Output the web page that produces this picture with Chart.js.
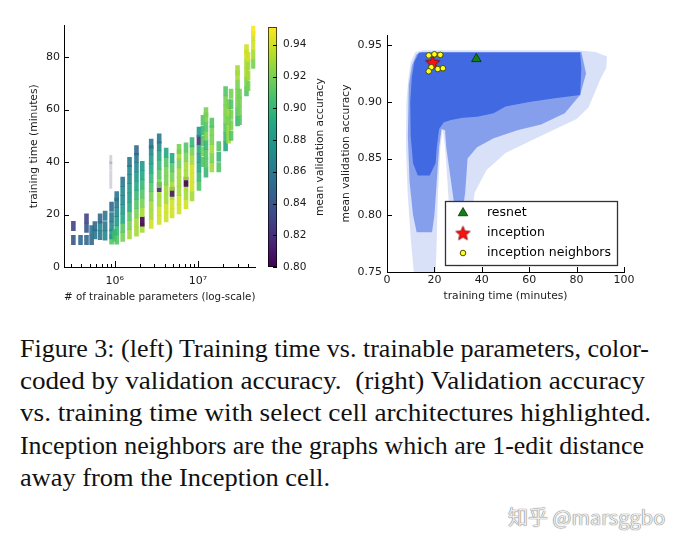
<!DOCTYPE html>
<html>
<head>
<meta charset="utf-8">
<script src="https://cdn.jsdelivr.net/npm/chart.js@4.4.1/dist/chart.umd.min.js"></script>
<style>
  html, body { margin: 0; padding: 0; background: #fff; }
  body { width: 686px; height: 546px; overflow: hidden; position: relative; }
  canvas { position: absolute; }
  #caption {
    position: absolute; left: 20px; top: 333px; width: 660px;
    font-family: "Liberation Serif", "Times New Roman", serif;
    font-size: 25.5px; line-height: 32.2px; color: #111;
  }
  #caption div { white-space: nowrap; }
  #caption span { display: inline-block; transform-origin: 0 0; }
  #mark {
    position: absolute; left: 508px; top: 502px;
    font-family: "Noto Sans CJK SC", "Noto Sans", sans-serif; font-size: 20px;
    color: #ececec; text-shadow: 0 0 1px #666, 0 0 1px #888;
  }
</style>
</head>
<body>
<canvas id="left" width="265" height="295" style="left:0;top:15px"></canvas>
<canvas id="cbar" width="80" height="295" style="left:262px;top:15px"></canvas>
<canvas id="right" width="305" height="295" style="left:335px;top:15px"></canvas>

<div id="caption">
  <div><span data-w="629">Figure 3: (left) Training time vs. trainable parameters, color-</span></div>
  <div><span data-w="625">coded by validation accuracy.&nbsp; (right) Validation accuracy</span></div>
  <div><span data-w="631">vs. training time with select cell architectures highlighted.</span></div>
  <div><span data-w="624">Inception neighbors are the graphs which are 1-edit distance</span></div>
  <div><span data-w="310">away from the Inception cell.</span></div>
</div>
<div id="mark">知乎 @marsggbo</div>

<script>
// ---------- left panel: one column of streaks per parameter count ----------
const columnParams = [
  3.2e5, 3.9e5, 4.6e5, 5.3e5, 5.8e5, 6.7e5, 7.7e5, 9.2e5, 1.0e6, 1.06e6,
  1.25e6, 1.51e6, 1.83e6, 2.15e6, 2.75e6, 3.43e6, 4.16e6, 4.9e6, 5.94e6, 7.2e6,
  8.5e6, 1.03e7, 1.15e7, 1.25e7, 1.47e7, 1.78e7, 2.15e7, 2.34e7, 2.5e7, 2.99e7,
  3.16e7, 3.83e7, 4.0e7, 4.64e7
];
const columnMinutes = [
  [10.3, 15.6], [10.3], [10.3, 15, 18.5], [10.3, 14], [12.5, 15.5],
  [12.2, 15.5, 18.5], [12, 15.5, 19.5], [10.5, 12.5, 15.5, 19, 23], [11.5, 12.5],
  [10.5, 14, 17.5, 21, 24.5, 27],
  [11.5, 15, 18.5, 22, 25.5, 29, 32.5],
  [12.5, 16, 19.5, 23, 26.5, 30, 33.5, 37, 40],
  [13.5, 17, 20.5, 24, 27.5, 31, 34.5, 38, 41.5, 44.5],
  [15, 17.3, 21, 24.5, 28, 31.5, 35, 38.5],
  [16.5, 20, 23.5, 27, 30.5, 34, 37.5, 41, 44.5, 47],
  [18, 21.5, 25, 28.5, 30.5, 32, 35.5, 39, 42.5, 46, 49],
  [19, 22.5, 26, 29.5, 33, 36.5, 40, 43.5],
  [20.5, 24, 27.5, 28.7, 31, 34.5, 38, 41.5],
  [22, 25.5, 29, 32.5, 36, 39.5, 43, 45],
  [24, 27.5, 31, 32.5, 35, 38.5, 42, 45.5],
  [27, 30.5, 34, 37.5, 41, 44.5, 47.5],
  [31, 34.5, 38, 41.5, 45, 48.5, 51.5],
  [40, 44, 48, 52, 56],
  [36, 39.5, 43, 46.5, 50, 53.5, 57, 59],
  [38, 41.5, 45, 48.5, 52, 55],
  [38, 42, 46],
  [46, 49.5, 53, 56.5, 60, 63.5, 67],
  [49, 52.5, 56, 59.5, 62],
  [50, 54, 58, 62, 66],
  [55.5, 59, 62.5, 66, 69.5, 73, 75],
  [56, 59.5, 63, 66],
  [67, 70.5, 74, 77.5, 81, 83],
  [69, 73, 77, 80],
  [77.5, 81, 84.5, 88, 90]
];
const columnAccuracy = [
  [0.84, 0.83], [0.85], [0.85, 0.84, 0.83], [0.85, 0.86], [0.86, 0.85],
  [0.86, 0.87, 0.85], [0.87, 0.86, 0.86], [0.91, 0.88, 0.87, 0.86, 0.85], [0.91, 0.90],
  [0.91, 0.90, 0.88, 0.87, 0.86, 0.86],
  [0.92, 0.91, 0.89, 0.88, 0.87, 0.87, 0.86],
  [0.93, 0.92, 0.91, 0.89, 0.88, 0.88, 0.87, 0.87, 0.86],
  [0.93, 0.93, 0.92, 0.91, 0.90, 0.89, 0.88, 0.87, 0.86, 0.85],
  [0.93, 0.80, 0.93, 0.92, 0.91, 0.90, 0.89, 0.88],
  [0.94, 0.93, 0.93, 0.92, 0.91, 0.90, 0.89, 0.88, 0.87, 0.86],
  [0.94, 0.94, 0.93, 0.93, 0.82, 0.92, 0.91, 0.90, 0.89, 0.87, 0.86],
  [0.94, 0.94, 0.93, 0.93, 0.92, 0.92, 0.91, 0.89],
  [0.94, 0.94, 0.93, 0.81, 0.93, 0.92, 0.91, 0.89],
  [0.94, 0.94, 0.93, 0.93, 0.93, 0.92, 0.93, 0.92],
  [0.94, 0.93, 0.93, 0.80, 0.93, 0.93, 0.92, 0.91],
  [0.93, 0.94, 0.94, 0.94, 0.93, 0.92, 0.90],
  [0.91, 0.90, 0.89, 0.88, 0.89, 0.82, 0.88],
  [0.91, 0.92, 0.91, 0.90, 0.91],
  [0.90, 0.91, 0.91, 0.90, 0.92, 0.91, 0.92, 0.92],
  [0.93, 0.92, 0.93, 0.92, 0.92, 0.91],
  [0.91, 0.90, 0.91],
  [0.89, 0.90, 0.91, 0.92, 0.92, 0.92, 0.91],
  [0.93, 0.93, 0.92, 0.93, 0.92],
  [0.91, 0.92, 0.92, 0.91, 0.92],
  [0.90, 0.91, 0.92, 0.92, 0.92, 0.93, 0.93],
  [0.91, 0.92, 0.92, 0.92],
  [0.91, 0.92, 0.93, 0.93, 0.94, 0.94],
  [0.92, 0.93, 0.93, 0.94],
  [0.92, 0.93, 0.94, 0.94, 0.95]
];
// the pale grey streak near 1e6
const faintParams = [9.0e5, 9.0e5, 9.0e5, 9.0e5];
const faintMinutes = [31.5, 35, 38.5, 41];

const timeTicks = [0, 20, 40, 60, 80];
const cbarTicks = [0.80, 0.82, 0.84, 0.86, 0.88, 0.90, 0.92, 0.94];

// ---------- right panel: outline of the point cloud at three densities ----------
const cloudOuterTime = [9, 10, 12, 15, 80, 88, 92.8, 92.5, 90, 85, 80, 70, 60, 50, 42, 37, 35, 34, 32,
  29.5, 27, 25.5, 24.5, 23.5, 22.5, 21.5, 21, 20.5, 11.5, 10, 8.7, 8.0, 8.2];
const cloudOuterAcc = [0.92, 0.935, 0.944, 0.9455, 0.9455, 0.944, 0.94, 0.93, 0.92, 0.895, 0.885, 0.875, 0.865, 0.855, 0.84, 0.82, 0.79, 0.765, 0.755,
  0.755, 0.78, 0.83, 0.86, 0.876, 0.86, 0.82, 0.78, 0.745, 0.745, 0.78, 0.82, 0.86, 0.90];
const cloudMidTime = [9.2, 10.5, 12.5, 15, 82, 84, 81.5, 75, 65, 55, 45, 38, 34, 33, 31, 29, 27, 25, 24.5, 23, 22, 21, 20, 19,
  12.5, 11, 9.5, 8.8];
const cloudMidAcc = [0.915, 0.932, 0.942, 0.944, 0.944, 0.925, 0.906, 0.89, 0.88, 0.875, 0.868, 0.86, 0.85, 0.82, 0.79, 0.80, 0.83, 0.86,
  0.875, 0.876, 0.86, 0.83, 0.80, 0.785, 0.785, 0.80, 0.83, 0.87];
const cloudCoreTime = [9.8, 10.5, 11.5, 13.5, 81.5, 82, 81.5, 70, 60, 50, 45, 38, 32, 27, 24, 22, 21, 20.5, 18, 13, 11, 10];
const cloudCoreAcc = [0.90, 0.922, 0.935, 0.9435, 0.9435, 0.93, 0.906, 0.903, 0.90, 0.896, 0.89, 0.887, 0.886, 0.884, 0.882, 0.876,
  0.86, 0.846, 0.835, 0.835, 0.846, 0.87];

const markerNames = ['resnet', 'inception', 'inception neighbors'];
const resnetTime = [37.7];
const resnetAcc = [0.938];
const inceptionTime = [19.3];
const inceptionAcc = [0.935];
const neighborTime = [17.6, 20.0, 22.5, 18.7, 21.4, 23.6, 17.6];
const neighborAcc = [0.941, 0.942, 0.9415, 0.9306, 0.929, 0.9297, 0.927];

const rightAccTicks = [0.75, 0.80, 0.85, 0.90, 0.95];
const rightTimeTicks = [0, 20, 40, 60, 80, 100];

// ---------- helpers ----------
Chart.defaults.font.family = '"DejaVu Sans", sans-serif';
Chart.defaults.color = '#1a1a1a';

const ACC_MIN = 0.80, ACC_MAX = 0.951;
const VIRIDIS = ['#440154', '#482475', '#414487', '#355f8d', '#2a788e', '#21918c',
  '#22a884', '#44bf70', '#7ad151', '#bddf26', '#fde725'];
function hex(c) { return [1, 3, 5].map(i => parseInt(c.slice(i, i + 2), 16)); }
function viridis(v, alpha) {
  let t = Math.min(1, Math.max(0, (v - ACC_MIN) / (ACC_MAX - ACC_MIN))) * 10;
  const i = Math.min(9, Math.floor(t)), f = t - i;
  const a = hex(VIRIDIS[i]), b = hex(VIRIDIS[i + 1]);
  const c = a.map((x, k) => Math.round(x + (b[k] - x) * f));
  return `rgba(${c[0]},${c[1]},${c[2]},${alpha == null ? 1 : alpha})`;
}
const toPts = (xs, ys) => xs.map((x, i) => ({ x, y: ys[i] }));
const fixTicks = vals => s => { s.ticks = vals.map(v => ({ value: v })); };

// small inward tick marks, matplotlib style
const innerTicks = {
  id: 'innerTicks',
  afterDatasetsDraw(chart, args, opts) {
    const { ctx, chartArea: a } = chart;
    ctx.save();
    ctx.strokeStyle = '#000';
    ctx.lineWidth = 1;
    for (const id of Object.keys(opts)) {
      const s = chart.scales[id];
      if (!s || !Array.isArray(opts[id])) continue;
      const [major, minor] = opts[id];
      s.ticks.forEach((t, i) => {
        const len = (s.type === 'logarithmic' && !t.major) ? minor : major;
        if (!len) return;
        const p = Math.round(s.getPixelForTick(i)) + 0.5;
        ctx.beginPath();
        if (s.position === 'bottom') { ctx.moveTo(p, a.bottom); ctx.lineTo(p, a.bottom - len); }
        else if (s.position === 'left') { ctx.moveTo(a.left, p); ctx.lineTo(a.left + len, p); }
        else { ctx.moveTo(a.right, p); ctx.lineTo(a.right - len, p); }
        ctx.stroke();
      });
    }
    ctx.restore();
  }
};

const tickFont = { family: '"DejaVu Sans", sans-serif', size: 11 };
const titleFont = { family: '"DejaVu Sans", sans-serif', size: 10.7 };
const axisBorder = { display: true, color: '#000', width: 1 };

// ---------- left chart ----------
const leftPoints = [];
columnParams.forEach((p, i) => {
  columnMinutes[i].forEach((m, j) => leftPoints.push({ x: p, y: m, acc: columnAccuracy[i][j] }));
});

new Chart(document.getElementById('left'), {
  type: 'scatter',
  data: {
    datasets: [
      {
        data: toPts(faintParams, faintMinutes),
        pointStyle: 'line', pointRotation: 90, pointRadius: 4.5, pointBorderWidth: 3,
        pointBorderColor: 'rgba(110,100,140,0.28)', order: 2
      },
      {
        data: leftPoints,
        pointStyle: 'line', pointRotation: 90, pointRadius: 5, pointBorderWidth: 4.6,
        pointBorderColor: c => viridis(c.raw.acc, 0.9), order: 1
      }
    ]
  },
  options: {
    responsive: false, animation: false, events: [],
    layout: { padding: { top: 10, right: 8, left: 0, bottom: 0 } },
    plugins: { legend: { display: false }, tooltip: { enabled: false }, innerTicks: { x: [6, 3], y: [5, 0] } },
    scales: {
      x: {
        type: 'logarithmic', min: 2.47e5, max: 4.9e7,
        afterFit: s => { s.height = 43; },
        afterBuildTicks: s => {
          s.ticks = s.ticks.filter(t => {
            const e = Math.floor(Math.log10(t.value) + 1e-9);
            const m = t.value / Math.pow(10, e);
            t.major = Math.abs(m - 1) < 1e-6;
            return Math.abs(m - Math.round(m)) < 1e-6 && t.value > 2.47e5 && t.value < 4.9e7;
          });
        },
        grid: { display: false, drawTicks: false }, border: axisBorder,
        ticks: {
          autoSkip: false, maxRotation: 0, padding: 8, font: tickFont, color: '#1a1a1a',
          callback: v => {
            const e = Math.log10(v);
            if (Math.abs(e - Math.round(e)) > 1e-9) return '';
            return Math.round(e) === 6 ? '10\u2076' : Math.round(e) === 7 ? '10\u2077' : '';
          }
        },
        title: { display: true, text: '# of trainable parameters (log-scale)', font: titleFont, color: '#1a1a1a', padding: { top: 0, bottom: 6.6 } }
      },
      y: {
        min: 0, max: 92,
        afterFit: s => { s.width = 64; },
        afterBuildTicks: fixTicks(timeTicks),
        grid: { display: false, drawTicks: false }, border: axisBorder,
        ticks: { padding: 4, font: tickFont, color: '#1a1a1a' },
        title: { display: true, text: 'training time (minutes)', font: titleFont, color: '#1a1a1a', padding: { top: 28.3, bottom: 0 } }
      }
    }
  },
  plugins: [innerTicks]
});

// ---------- colour bar ----------
const cbarTitle = {
  id: 'cbarTitle',
  afterDraw(chart) {
    const { ctx, chartArea: a } = chart;
    ctx.save();
    ctx.translate(58.5, (a.top + a.bottom) / 2);
    ctx.rotate(-Math.PI / 2);
    ctx.font = '10.7px "DejaVu Sans", sans-serif';
    ctx.fillStyle = '#1a1a1a';
    ctx.textAlign = 'center';
    ctx.textBaseline = 'middle';
    ctx.fillText('mean validation accuracy', 0, 0);
    ctx.restore();
  }
};

new Chart(document.getElementById('cbar'), {
  type: 'bar',
  data: {
    labels: [''],
    datasets: [{
      data: [[ACC_MIN, ACC_MAX]],
      backgroundColor: c => {
        const a = c.chart.chartArea;
        if (!a) return '#21918c';
        const g = c.chart.ctx.createLinearGradient(0, a.bottom, 0, a.top);
        VIRIDIS.forEach((col, i) => g.addColorStop(i / 10, col));
        return g;
      },
      borderColor: '#000', borderWidth: 1, borderSkipped: false,
      barPercentage: 1, categoryPercentage: 1
    }]
  },
  options: {
    responsive: false, animation: false, events: [],
    layout: { padding: { top: 10, right: 0, left: 6, bottom: 43 } },
    plugins: { legend: { display: false }, tooltip: { enabled: false }, innerTicks: { y: [4, 0] } },
    scales: {
      x: { display: false },
      y: {
        position: 'right', min: ACC_MIN, max: ACC_MAX,
        afterFit: s => { s.width = 65; },
        afterBuildTicks: fixTicks(cbarTicks),
        grid: { display: false, drawTicks: false }, border: { display: false },
        ticks: { padding: 6, font: { family: '"DejaVu Sans", sans-serif', size: 10.5 }, color: '#1a1a1a', callback: v => v.toFixed(2) }
      }
    }
  },
  plugins: [innerTicks, cbarTitle]
});

// ---------- right chart ----------
function makeStar(r, fill, edge) {
  const c = document.createElement('canvas');
  const s = Math.ceil(r * 2 + 4);
  c.width = c.height = s;
  const g = c.getContext('2d');
  g.translate(s / 2, s / 2 + r * 0.1);
  g.beginPath();
  for (let k = 0; k < 10; k++) {
    const rr = k % 2 ? r * 0.45 : r;
    const ang = -Math.PI / 2 + k * Math.PI / 5;
    g.lineTo(rr * Math.cos(ang), rr * Math.sin(ang));
  }
  g.closePath();
  g.fillStyle = fill; g.fill();
  g.lineWidth = 0.8; g.strokeStyle = edge; g.stroke();
  return c;
}
const starImg = makeStar(7.5, '#ff1010', '#7a0000');

const markerStyles = [
  { pointStyle: 'triangle', radius: 5.5, fill: '#128012', edge: '#0a2a0a', width: 0.8 },
  { pointStyle: starImg, radius: 7.5, fill: '#ff1010', edge: '#7a0000', width: 0.8 },
  { pointStyle: 'circle', radius: 2.8, fill: '#ffff1a', edge: '#4d4d00', width: 1 }
];

const boxLegend = {
  id: 'boxLegend',
  afterDatasetsDraw(chart) {
    const { ctx, chartArea: a } = chart;
    const w = 172, h = 64, x0 = Math.round(a.right - 7 - w), y0 = Math.round(a.bottom - 7 - h);
    ctx.save();
    ctx.fillStyle = '#fff';
    ctx.fillRect(x0, y0, w, h);
    ctx.strokeStyle = '#333';
    ctx.lineWidth = 1.3;
    ctx.strokeRect(x0 + 0.5, y0 + 0.5, w, h);
    markerNames.forEach((name, k) => {
      const st = markerStyles[k];
      const y = y0 + 12 + k * 20, mx = x0 + 18;
      ctx.fillStyle = st.fill; ctx.strokeStyle = st.edge; ctx.lineWidth = st.width;
      Chart.helpers.drawPoint(ctx, { pointStyle: st.pointStyle, radius: st.radius, rotation: 0, borderWidth: st.width }, mx, y);
      ctx.fillStyle = '#000';
      ctx.font = '12.5px "DejaVu Sans", sans-serif';
      ctx.textBaseline = 'middle';
      ctx.fillText(name, x0 + 42, y);
    });
    ctx.restore();
  }
};

const cloudLayer = (xs, ys, color, order) => ({
  type: 'line', data: toPts(xs, ys), fill: 'shape', backgroundColor: color,
  borderColor: 'rgba(0,0,0,0)', borderWidth: 0, pointRadius: 0, tension: 0, order
});

new Chart(document.getElementById('right'), {
  type: 'scatter',
  data: {
    datasets: [
      cloudLayer(cloudOuterTime, cloudOuterAcc, 'rgba(65,105,225,0.2)', 30),
      cloudLayer(cloudMidTime, cloudMidAcc, 'rgba(65,105,225,0.55)', 20),
      cloudLayer(cloudCoreTime, cloudCoreAcc, 'rgb(65,105,225)', 10),
      {
        label: markerNames[0], data: toPts(resnetTime, resnetAcc),
        pointStyle: 'triangle', pointRadius: 5.5,
        pointBackgroundColor: markerStyles[0].fill, pointBorderColor: markerStyles[0].edge, pointBorderWidth: 0.8, order: 3
      },
      {
        label: markerNames[1], data: toPts(inceptionTime, inceptionAcc),
        pointStyle: starImg, pointRadius: 7.5, order: 2
      },
      {
        label: markerNames[2], data: toPts(neighborTime, neighborAcc),
        pointStyle: 'circle', pointRadius: 2.8,
        pointBackgroundColor: markerStyles[2].fill, pointBorderColor: markerStyles[2].edge, pointBorderWidth: 1, order: 1
      }
    ]
  },
  options: {
    responsive: false, animation: false, events: [],
    layout: { padding: { top: 20, right: 16, left: 0, bottom: 0 } },
    plugins: { legend: { display: false }, tooltip: { enabled: false }, innerTicks: { x: [5, 0], y: [5, 0] } },
    scales: {
      x: {
        type: 'linear', min: 0, max: 100,
        afterFit: s => { s.height = 38; },
        afterBuildTicks: fixTicks(rightTimeTicks),
        grid: { display: false, drawTicks: false }, border: axisBorder,
        ticks: { autoSkip: false, maxRotation: 0, padding: 2, font: tickFont, color: '#1a1a1a' },
        title: { display: true, text: 'training time (minutes)', font: titleFont, color: '#1a1a1a', padding: { top: 0, bottom: 6.9 } }
      },
      y: {
        min: 0.75, max: 0.959,
        afterFit: s => { s.width = 52; },
        afterBuildTicks: fixTicks(rightAccTicks),
        grid: { display: false, drawTicks: false }, border: axisBorder,
        ticks: { padding: 5, font: tickFont, color: '#1a1a1a', callback: v => v.toFixed(2) },
        title: { display: true, text: 'mean validation accuracy', font: titleFont, color: '#1a1a1a', padding: { top: 5.3, bottom: 0 } }
      }
    }
  },
  plugins: [innerTicks, boxLegend]
});

// ---------- caption: stretch each line to the width it has in the figure ----------
document.querySelectorAll('#caption span').forEach(sp => {
  const w = sp.getBoundingClientRect().width;
  sp.style.transform = `scaleX(${(+sp.dataset.w) / w})`;
});
</script>
</body>
</html>
